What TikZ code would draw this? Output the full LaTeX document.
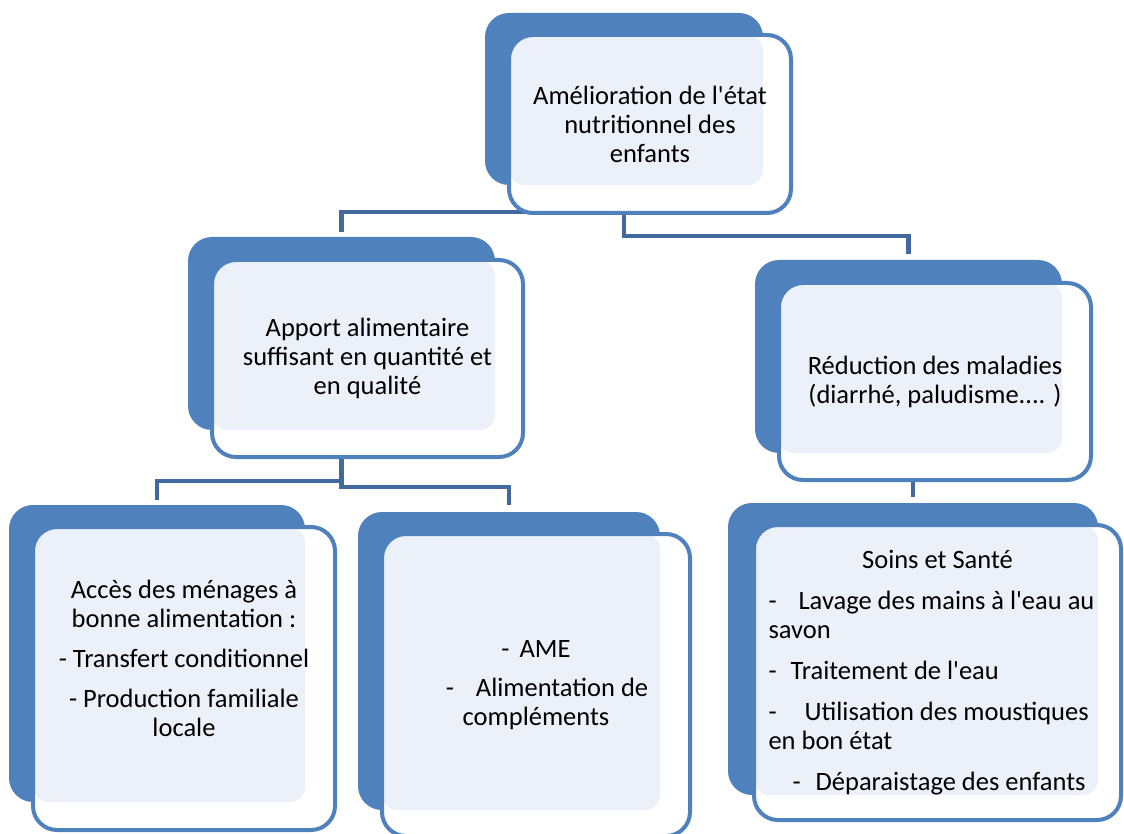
\documentclass[tikz,border=0pt]{standalone}
\usepackage{fontspec}
\setmainfont{Carlito}[Ligatures=TeXOff]
\usetikzlibrary{backgrounds}
\definecolor{cardblue}{HTML}{4F81BD}
\definecolor{linkblue}{HTML}{41699D}
\definecolor{cardpale}{HTML}{ECF0F8}

\begin{document}
\begin{tikzpicture}[
  x=1pt,y=-1pt,
  backcard/.style={fill=cardblue,rounded corners=24pt,inner sep=0pt},
  card/.style={draw=cardblue,line width=4pt,fill=white,rounded corners=24pt,inner sep=0pt,align=center,
    font=\fontsize{26.5}{29}\selectfont,
    path picture={\fill[cardpale,rounded corners=16pt] (path picture bounding box.north west) rectangle (#1.south east);}},
  link/.style={draw=linkblue,line width=4.5pt}
]
\useasboundingbox (0,0) rectangle (1124,834);
\node[backcard,minimum width=278pt,minimum height=172pt] (goalback) at (624,99) {};
\node[card=goalback,minimum width=282pt,minimum height=178pt] (goal) at (650,124)
  {Amélioration de l'état\\nutritionnel des\\enfants};
\node[backcard,minimum width=307pt,minimum height=193pt] (apportback) at (341.5,333.5) {};
\node[card=apportback,minimum width=311pt,minimum height=197pt] (apport) at (367.5,358.5)
  {Apport alimentaire\\suffisant en quantité et\\en qualité};
\node[backcard,minimum width=307pt,minimum height=193pt] (reducback) at (908.5,356.5) {};
\node[card=reducback,minimum width=312pt,minimum height=197pt] (reduc) at (935,381.5)
  {Réduction des maladies\\(diarrhé, paludisme.... )};
\node[backcard,minimum width=296pt,minimum height=297pt] (accesback) at (157,653.5) {};
\node[card=accesback,minimum width=302pt,minimum height=303pt] (acces) at (184,678.5)
  {Accès des ménages à\\bonne alimentation :\\[11pt]- Transfert conditionnel\\[11pt]- Production familiale\\locale\\[11pt]\mbox{}};
\node[backcard,minimum width=302pt,minimum height=298pt] (ameback) at (509,661) {};
\node[card=ameback,minimum width=308pt,minimum height=302pt] (ame) at (536,685)
  {-\hspace{10pt}AME\\[10pt]\hspace*{22pt}-\hspace{22pt}Alimentation de\\compléments};
\node[backcard,minimum width=370pt,minimum height=292pt] (soinsback) at (913,649) {};
\node[card=soinsback,minimum width=367pt,minimum height=295pt,text width=338pt,align=left] (soins) at (937.5,672.5)
  {\spaceskip=0pt\xspaceskip=0pt
   \makebox[338pt]{Soins et Santé}\\[12pt]
   -\hspace{22pt}Lavage des mains à l'eau au\\savon\\[12pt]
   -\hspace{14pt}Traitement de l'eau\\[12pt]
   -\hspace{28pt}Utilisation des moustiques\\en bon état\\[12pt]
   \hspace*{24pt}-\hspace{15pt}Déparaistage des enfants};
\begin{scope}[on background layer]
\draw[link] (goalback.center) |- ([yshift=25pt]apportback.north) -- ([yshift=5pt]apportback.north);
\draw[link] (goalback.center) |- ([yshift=24pt]reducback.north) -- ([yshift=6pt]reducback.north);
\draw[link] (apportback.center) |- ([yshift=24pt]accesback.north) -- ([yshift=5pt]accesback.north);
\draw[link] (apportback.center) |- ([yshift=25pt]ameback.north) -- ([yshift=7pt]ameback.north);
\draw[link] (reducback.center -| soinsback.north) -- ([yshift=6pt]soinsback.north);
\end{scope}
\end{tikzpicture}
\end{document}
